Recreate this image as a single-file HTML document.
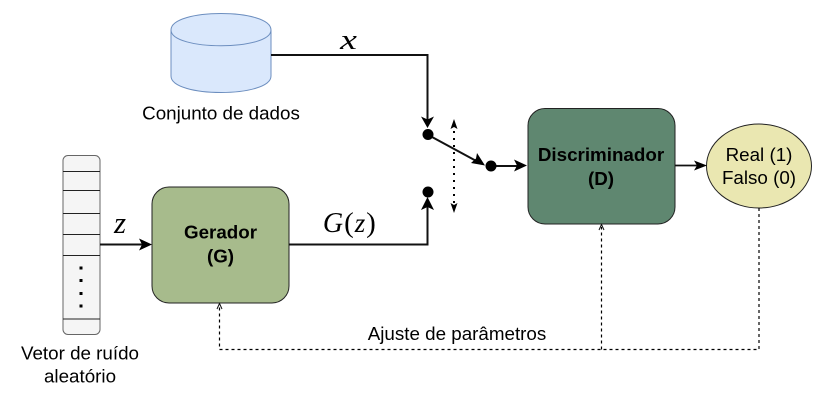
<!DOCTYPE html>
<html>
<head>
<meta charset="utf-8">
<style>
html,body{margin:0;padding:0;background:#fff;width:839px;height:412px;overflow:hidden}
svg{display:block}
text{font-family:"Liberation Sans",sans-serif;font-size:18.8px;fill:#000;text-anchor:middle}
.b{font-weight:bold}
.m{font-family:"Liberation Serif",serif;font-style:italic;font-size:28px}
.r{font-family:"Liberation Serif",serif;font-style:normal;font-size:29px}
</style>
</head>
<body>
<svg width="839" height="412" viewBox="0 0 839 412" xmlns="http://www.w3.org/2000/svg">
<rect width="839" height="412" fill="#fff"/>

<!-- Cylinder -->
<path d="M171 30C171 8 271 8 271 30V76C271 98 171 98 171 76Z" fill="#dae8fc" stroke="#6c8ebf" stroke-width="1"/>
<path d="M171 30C171 51 271 51 271 30" fill="none" stroke="#6c8ebf" stroke-width="1"/>
<text x="221" y="119.500">Conjunto de dados</text>

<!-- Noise vector -->
<rect x="63" y="155.500" width="37" height="179" rx="5" fill="#f5f5f5" stroke="#666" stroke-width="1"/>
<g stroke="#222" stroke-width="1">
<line x1="63" y1="171.500" x2="100" y2="171.500"/>
<line x1="63" y1="190.500" x2="100" y2="190.500"/>
<line x1="63" y1="213.500" x2="100" y2="213.500"/>
<line x1="63" y1="234.500" x2="100" y2="234.500"/>
<line x1="63" y1="255.500" x2="100" y2="255.500"/>
<line x1="63" y1="319" x2="100" y2="319"/>
</g>
<g fill="#000">
<rect x="79.500" y="266.500" width="3" height="3"/>
<rect x="79.500" y="279" width="3" height="3"/>
<rect x="79.500" y="292" width="3" height="3"/>
<rect x="79.500" y="304.500" width="3" height="3"/>
</g>
<text x="80" y="359.500">Vetor de ruído</text>
<text x="80" y="382.500">aleatório</text>

<!-- Generator -->
<rect x="152" y="187" width="137" height="116" rx="17" fill="#a7bb8c" stroke="#222" stroke-width="1"/>
<text class="b" x="220.500" y="238.500">Gerador</text>
<text class="b" x="220.500" y="262.500">(G)</text>

<!-- Discriminator -->
<rect x="528" y="108.500" width="147" height="115.500" rx="17" fill="#5f8770" stroke="#222" stroke-width="1"/>
<text class="b" x="601" y="161">Discriminador</text>
<text class="b" x="601" y="185">(D)</text>

<!-- Output -->
<ellipse cx="759" cy="166" rx="52.500" ry="42" fill="#eae7b1" stroke="#222" stroke-width="1"/>
<text x="759" y="161">Real (1)</text>
<text x="759" y="184">Falso (0)</text>

<!-- Solid connectors -->
<g fill="none" stroke="#111" stroke-width="2">
<path d="M100 244.500H146"/>
<path d="M271 55H427.500V124"/>
<path d="M289 244.500H427.500V204"/>
<path d="M432 137L480 163"/>
<path d="M491 166H522"/>
</g>
<path d="M675 165.500H700" fill="none" stroke="#111" stroke-width="1.800"/>
<g fill="#000">
<path d="M152 244.500L139 238.500L142 244.500L139 250.500Z"/>
<path d="M427.500 128L421 116.500L427.500 119.500L434 116.500Z"/>
<path d="M427.500 197L421 210L427.500 207L434 210Z"/>
<path d="M485 165.500L471 163L476 158.500L477 153Z"/>
<path d="M527 165.500L514 159.500L517 165.500L514 171.500Z"/>
<path d="M707 165.500L694 160.500L697 165.500L694 170.500Z"/>
<circle cx="428" cy="134.500" r="5.500"/>
<circle cx="428" cy="192" r="5.500"/>
<circle cx="491" cy="166" r="5.500"/>
</g>

<!-- Dotted double arrow -->
<path d="M454 124V208" fill="none" stroke="#000" stroke-width="2" stroke-dasharray="2 5"/>
<path d="M454 119L450.500 129L454 127L457.500 129Z" fill="#000"/>
<path d="M454 213L450.500 203L454 205L457.500 203Z" fill="#000"/>

<!-- Dashed feedback -->
<g fill="none" stroke="#000" stroke-width="1.200" stroke-dasharray="3 3">
<path d="M759 208V349.500H219.500V305"/>
<path d="M601.500 349.500V227"/>
</g>
<g fill="none" stroke="#111" stroke-width="1">
<path d="M217 309L219.500 303.500L222 309"/>
<path d="M599 230L601.500 224.500L604 230"/>
</g>
<text x="457" y="340">Ajuste de parâmetros</text>

<!-- Math labels -->
<text class="m" x="120" y="233" style="font-size:31px">z</text>
<text class="m" transform="translate(348.500 49) scale(1.350 1)" x="0" y="0">x</text>
<text class="m" x="333" y="232">G</text>
<text class="r" x="349" y="232">(</text>
<text class="m" x="360" y="232" style="font-size:27px">z</text>
<text class="r" x="371" y="232">)</text>
</svg>
</body>
</html>
